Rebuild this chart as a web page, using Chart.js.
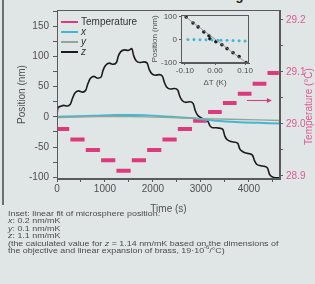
<!DOCTYPE html>
<html>
<head>
<meta charset="utf-8">
<script src="https://cdn.jsdelivr.net/npm/chart.js@4.4.1/dist/chart.umd.min.js"></script>
<style>
  html, body { margin: 0; padding: 0; background: #e0e5e5; }
  #wrap { position: relative; width: 315px; height: 284px; overflow: hidden;
          font-family: 'Liberation Sans', Arial, sans-serif; }
  #main { position: absolute; left: 0; top: 0; }
  #inset { position: absolute; left: 150px; top: 3px; }
  #edge { position: absolute; left: 2px; top: 0; width: 1.5px; height: 205px; background: #6b7070; }
  #cutTitle { position: absolute; right: 57px; top: -11px; font-size: 13px; font-weight: bold;
              line-height: 13px; color: #222; }
  #notes { position: absolute; left: 8px; top: 210px; font-size: 7.6px; line-height: 7.4px;
           color: #4a4a4a; white-space: nowrap; transform: scaleX(1.17); transform-origin: 0 0; }
</style>
</head>
<body>
<div id="wrap">
  <div id="cutTitle">changes</div>
  <div id="edge"></div>
  <canvas id="main" width="315" height="215"></canvas>
  <canvas id="inset" width="110" height="85"></canvas>
  <div id="notes">
    Inset: linear fit of microsphere position:<br>
    <i>x</i>: 0.2 nm/mK<br>
    <i>y</i>: 0.1 nm/mK<br>
    <i>z</i>: 1.1 nm/mK<br>
    (the calculated value for <i>z</i> = 1.14 nm/mK based on the dimensions of<br>
    the objective and linear expansion of brass, 19·10<sup style="font-size:5px;line-height:0">-6</sup>/°C)
  </div>
</div>
<script>
/* ═══════════════════════════════════════════════
   DATA
   ═══════════════════════════════════════════════ */
const timeTicks = [0, 500, 1000, 1500, 2000, 2500, 3000, 3500, 4000, 4500];
const posTicks  = [-100, -75, -50, -25, 0, 25, 50, 75, 100, 125, 150, 175];
const tempTicks = [28.9, 28.95, 29.0, 29.05, 29.1, 29.15, 29.2];

// temperature plateaus: start times (s) and level (°C)
const stepBounds = [0, 280, 600, 920, 1240, 1560, 1880, 2200, 2520, 2840, 3150, 3460, 3770, 4080, 4390, 4650];
const tempLevels = [28.99, 28.97, 28.95, 28.93, 28.91, 28.93, 28.95, 28.97, 28.99, 29.006, 29.023, 29.04, 29.058, 29.077, 29.098];

// z position (nm)
const zTime = [0, 15, 60, 140, 210, 280, 320, 370, 450, 530, 600, 640, 690, 770, 850, 920,
  960, 1010, 1090, 1170, 1240, 1280, 1330, 1410, 1480, 1560, 1600, 1650, 1730, 1810, 1880,
  1920, 1970, 2050, 2130, 2200, 2240, 2290, 2370, 2450, 2520, 2560, 2610, 2690, 2770, 2840,
  2880, 2930, 3010, 3090, 3150, 3190, 3240, 3320, 3400, 3460, 3500, 3550, 3630, 3700, 3770,
  3810, 3860, 3940, 4010, 4080, 4120, 4170, 4250, 4320, 4390, 4430, 4480, 4560, 4650];
const zPos = [0, 14, 17, 19, 18, 21, 30, 39, 43, 41, 44, 54, 63, 67, 64, 66,
  77, 85, 89, 87, 90, 101, 108, 111, 110, 113, 101, 93, 90, 91, 89,
  79, 72, 69, 70, 67, 57, 49, 46, 47, 44, 34, 27, 24, 25, 22,
  11, 3, -2, -5, -8, -15, -18, -18, -19, -21, -32, -38, -41, -42, -44,
  -53, -57, -60, -61, -64, -73, -79, -81, -82, -85, -95, -99, -101, -101];

// x position (nm)
const xTime = [0, 400, 800, 1200, 1600, 2000, 2400, 2800, 3100, 3400, 3800, 4200, 4650];
const xPos  = [0, 1, 2, 3, 3, 2, 0, -2, -5, -7, -9, -10, -11];

// y position (nm)
const yTime = [0, 600, 1200, 1800, 2400, 3000, 3600, 4200, 4650];
const yPos  = [-1, 0, 1, 0, -1, -3, -4, -5, -6];

// arrow pointing to the temperature axis
const arrowTime = [3960, 4480];
const arrowTemp = [29.045, 29.045];

// inset: position vs ΔT
const insetZdT = [-0.096, -0.073, -0.056, -0.037, -0.020, -0.017, 0.003, 0.023, 0.040, 0.060, 0.080, 0.103];
const insetZ   = [99, 73, 56, 34, 17, 4, -9, -22, -39, -57, -74, -100];
const insetXdT = [-0.09, -0.07, -0.05, -0.03, -0.01, 0.01, 0.02, 0.04, 0.06, 0.08, 0.10];
const insetX   = [1, 1, 0, 0, -1, -2, -2, -3, -4, -5, -6];
const insetFitDT = [-0.1, 0.105];
const insetFitZ  = [102, -102];

/* ── Colours ── */
const PINK = '#dc3a7c';
const PINK_LIGHT = '#f2a6c6';
const PINK_TEXT = '#dc5a92';
const CYAN = '#45b6d2';
const YCOL = '#8ea79a';
const ZCOL = '#1c1c1c';
const AXIS = '#5a5a5a';
const TEXT = '#505050';
const FONT = "'Liberation Sans', Arial, sans-serif";

const pairs = (xs, ys) => xs.map((x, i) => ({ x, y: ys[i] }));

function buildTempPoints() {
  const pts = [];
  tempLevels.forEach((t, i) => {
    pts.push({ x: stepBounds[i], y: t });
    pts.push({ x: stepBounds[i + 1] - 25, y: t });
    pts.push({ x: stepBounds[i + 1] - 12, y: null });
  });
  return pts;
}

const setTicks = values => scale => { scale.ticks = values.map(v => ({ value: v })); };
const isMult = (v, m) => Math.abs(v / m - Math.round(v / m)) < 1e-6;

/* ═══════════════════════════════════════════════
   PLUGINS
   ═══════════════════════════════════════════════ */
const framePlugin = {
  id: 'frame',
  afterDraw(chart) {
    const { ctx, chartArea: a } = chart;
    ctx.save();
    ctx.strokeStyle = AXIS;
    ctx.lineWidth = 1;
    ctx.strokeRect(a.left + 0.5, a.top + 0.5, a.right - a.left - 1, a.bottom - a.top - 1);
    ctx.restore();
  }
};

const legendItems = [
  { text: 'Temperature', color: PINK, italic: false },
  { text: 'x', color: CYAN, italic: true },
  { text: 'y', color: YCOL, italic: true },
  { text: 'z', color: ZCOL, italic: true }
];

const mainDecor = {
  id: 'mainDecor',
  afterDraw(chart) {
    const { ctx, chartArea: a, scales } = chart;
    ctx.save();
    // legend inside plot
    legendItems.forEach((it, i) => {
      const y = a.top + 12 + i * 10;
      ctx.strokeStyle = it.color;
      ctx.lineWidth = 2;
      ctx.beginPath();
      ctx.moveTo(a.left + 4, y);
      ctx.lineTo(a.left + 21, y);
      ctx.stroke();
      ctx.fillStyle = '#333';
      ctx.font = (it.italic ? 'italic ' : '') + '10px ' + FONT;
      ctx.textBaseline = 'middle';
      ctx.fillText(it.text, a.left + 24, y);
    });
    // arrow toward temperature axis
    const x0 = scales.x.getPixelForValue(arrowTime[0]);
    const x1 = scales.x.getPixelForValue(arrowTime[1]);
    const y0 = scales.temp.getPixelForValue(arrowTemp[0]);
    ctx.strokeStyle = PINK;
    ctx.fillStyle = PINK;
    ctx.lineWidth = 1;
    ctx.beginPath();
    ctx.moveTo(x0, y0);
    ctx.lineTo(x1 - 3, y0);
    ctx.stroke();
    ctx.beginPath();
    ctx.moveTo(x1, y0);
    ctx.lineTo(x1 - 5, y0 - 2.5);
    ctx.lineTo(x1 - 5, y0 + 2.5);
    ctx.closePath();
    ctx.fill();
    // right axis title, reading bottom to top
    ctx.translate(309, (a.top + a.bottom) / 2 + 12);
    ctx.rotate(-Math.PI / 2);
    ctx.fillStyle = PINK_TEXT;
    ctx.font = '10px ' + FONT;
    ctx.textAlign = 'center';
    ctx.textBaseline = 'middle';
    ctx.fillText('Temperature (°C)', 0, 0);
    ctx.restore();
  }
};

/* ═══════════════════════════════════════════════
   MAIN CHART
   ═══════════════════════════════════════════════ */
const tickFont = { family: FONT, size: 10 };

new Chart(document.getElementById('main'), {
  type: 'line',
  data: {
    datasets: [
      { data: pairs(yTime, yPos), yAxisID: 'pos', borderColor: YCOL, borderWidth: 1.4, pointRadius: 0 },
      { data: pairs(xTime, xPos), yAxisID: 'pos', borderColor: CYAN, borderWidth: 2, pointRadius: 0, tension: 0.3 },
      { data: buildTempPoints(), yAxisID: 'temp', borderColor: PINK, borderWidth: 4, pointRadius: 0, spanGaps: false },
      { data: buildTempPoints(), yAxisID: 'temp', borderColor: PINK_LIGHT, borderWidth: 1, pointRadius: 0, spanGaps: false },
      { data: pairs(zTime, zPos), yAxisID: 'pos', borderColor: ZCOL, borderWidth: 1.6, pointRadius: 0,
        cubicInterpolationMode: 'monotone' }
    ]
  },
  options: {
    responsive: false,
    animation: false,
    events: [],
    layout: { padding: { top: 5, right: 0, left: 0, bottom: 0 } },
    plugins: { legend: { display: false }, tooltip: { enabled: false } },
    scales: {
      x: {
        type: 'linear', position: 'bottom', min: 0, max: 4650,
        afterFit: s => { s.height = 36; },
        afterBuildTicks: setTicks(timeTicks),
        grid: { drawOnChartArea: false, tickLength: 3, color: AXIS },
        border: { color: AXIS },
        ticks: { font: tickFont, color: TEXT, padding: 1, maxRotation: 0, autoSkip: false,
                 callback: v => isMult(v, 1000) ? String(v) : '' },
        title: { display: true, text: 'Time (s)', font: tickFont, color: TEXT, padding: { top: 6, bottom: 0 } }
      },
      pos: {
        type: 'linear', position: 'left', min: -103, max: 177,
        afterFit: s => { s.width = 57; },
        afterBuildTicks: setTicks(posTicks),
        grid: { drawOnChartArea: false, tickLength: 4, color: AXIS },
        border: { color: AXIS },
        ticks: { font: tickFont, color: TEXT, padding: 4, autoSkip: false,
                 callback: v => isMult(v, 50) ? String(v) : '' },
        title: { display: true, text: 'Position (nm)', font: tickFont, color: TEXT, padding: { top: 16, bottom: 0 } }
      },
      temp: {
        type: 'linear', position: 'right', min: 28.894, max: 29.219,
        afterFit: s => { s.width = 35; },
        afterBuildTicks: setTicks(tempTicks),
        grid: { drawOnChartArea: false, tickLength: 3, color: AXIS },
        border: { color: AXIS },
        ticks: { font: tickFont, color: PINK_TEXT, padding: 3, autoSkip: false,
                 callback: v => isMult(v, 0.1) ? v.toFixed(1) : '' }
      }
    }
  },
  plugins: [framePlugin, mainDecor]
});

/* ═══════════════════════════════════════════════
   INSET CHART
   ═══════════════════════════════════════════════ */
const insetFont = { family: FONT, size: 8 };

new Chart(document.getElementById('inset'), {
  type: 'scatter',
  data: {
    datasets: [
      { data: pairs(insetFitDT, insetFitZ), showLine: true, borderColor: '#8a8a8a', borderWidth: 0.8, pointRadius: 0 },
      { data: pairs(insetXdT, insetX), backgroundColor: CYAN, borderWidth: 0, pointRadius: 1.5 },
      { data: pairs(insetZdT, insetZ), backgroundColor: ZCOL, borderWidth: 0, pointRadius: 1.8 }
    ]
  },
  options: {
    responsive: false,
    animation: false,
    events: [],
    layout: { padding: { top: 12, right: 11, left: 0, bottom: 0 } },
    plugins: { legend: { display: false }, tooltip: { enabled: false } },
    scales: {
      x: {
        type: 'linear', min: -0.113, max: 0.113,
        afterFit: s => { s.height = 25; },
        afterBuildTicks: setTicks([-0.1, 0, 0.1]),
        grid: { drawOnChartArea: false, tickLength: 2, color: AXIS },
        border: { color: AXIS },
        ticks: { font: insetFont, color: TEXT, padding: 1, maxRotation: 0, autoSkip: false,
                 callback: v => v.toFixed(2) },
        title: { display: true, text: 'ΔT (K)', font: insetFont, color: TEXT, padding: { top: 3, bottom: 0 } }
      },
      y: {
        type: 'linear', min: -102, max: 108,
        afterFit: s => { s.width = 31; },
        afterBuildTicks: setTicks([-100, 0, 100]),
        grid: { drawOnChartArea: false, tickLength: 2, color: AXIS },
        border: { color: AXIS },
        ticks: { font: insetFont, color: TEXT, padding: 2, autoSkip: false },
        title: { display: true, text: 'Position (nm)', font: insetFont, color: TEXT, padding: { top: 0, bottom: 0 } }
      }
    }
  },
  plugins: [framePlugin]
});
</script>
</body>
</html>
